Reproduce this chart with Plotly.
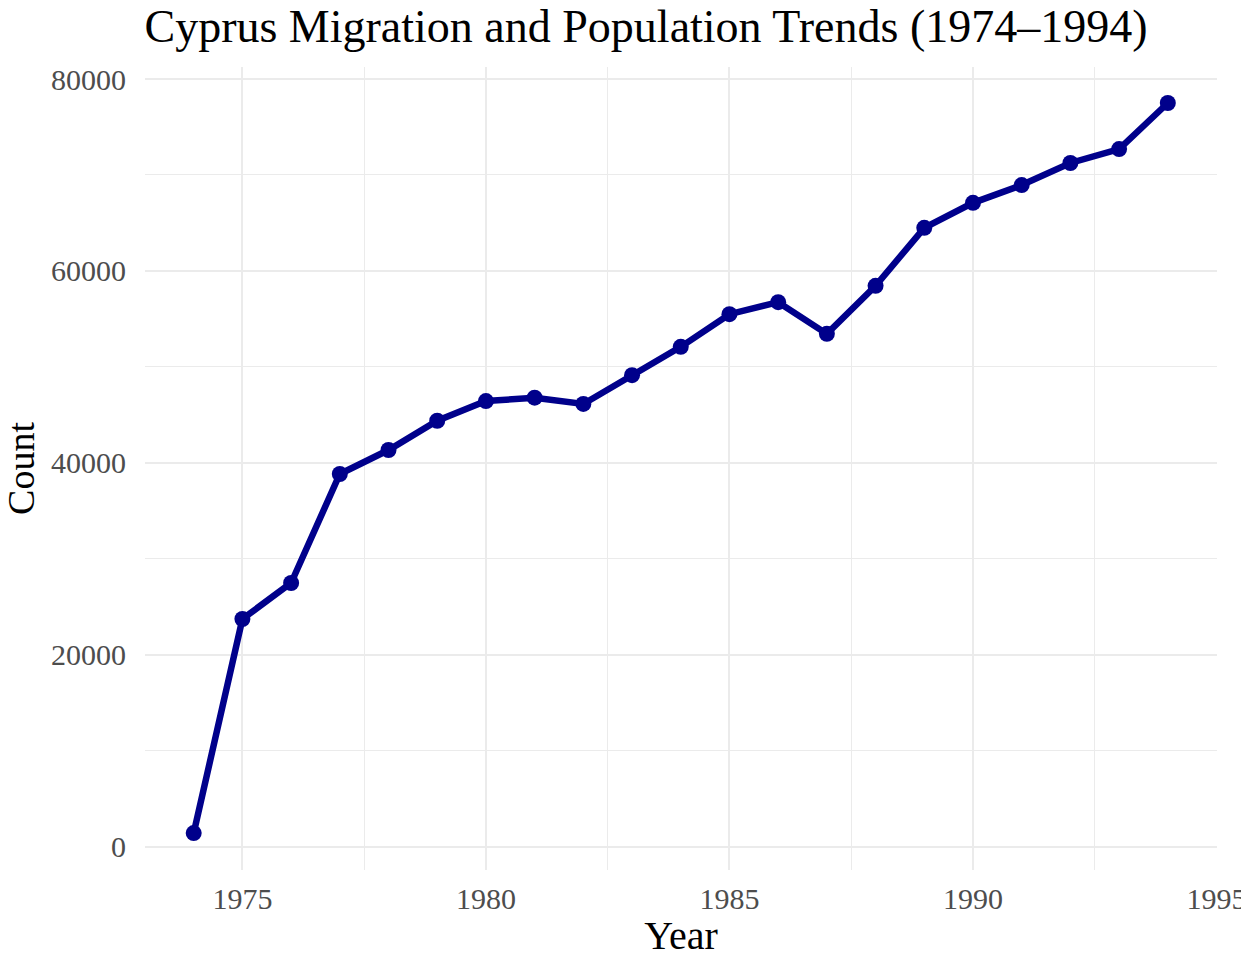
import plotly.graph_objects as go

years = list(range(1974, 1995))
counts = [1450, 23750, 27500, 38850, 41350, 44400, 46450, 46800, 46150, 49150,
          52100, 55500, 56750, 53450, 58450, 64500, 67100, 68950, 71250, 72700, 77500]

title_text = "Cyprus Migration and Population Trends (1974\u20131994)"
x_title = "Year"
y_title = "Count"

fig = go.Figure()
fig.add_trace(go.Scatter(
    x=years, y=counts, mode="lines+markers",
    line=dict(color="#00008B", width=6.5),
    marker=dict(color="#00008B", size=16),
    showlegend=False,
))

font_family = "Liberation Serif, Times New Roman, serif"

W, H = 1241, 958

fig.update_layout(
    width=W, height=H,
    paper_bgcolor="white", plot_bgcolor="white",
    margin=dict(l=145, r=24, t=67, b=88, autoexpand=False),
    title=dict(text=title_text, x=646 / W, xanchor="center", y=1 - 26 / H, yanchor="middle",
               font=dict(family=font_family, size=46, color="black")),
    font=dict(family=font_family),
)
fig.update_xaxes(
    range=[1973, 1995.01], dtick=5, tick0=1975,
    showgrid=True, gridcolor="#ebebeb", gridwidth=2.2,
    minor=dict(dtick=2.5, tick0=1972.5, showgrid=True, gridcolor="#ebebeb", gridwidth=1.1),
    zeroline=False, showline=False, ticks="", automargin=False,
    ticklabelstandoff=8, ticklabeloverflow="allow",
    tickfont=dict(family=font_family, size=30, color="#4d4d4d"),
    title=dict(text=x_title, font=dict(family=font_family, size=40, color="black"), standoff=13),
)
fig.update_yaxes(
    range=[-2400, 81250], dtick=20000, tick0=0, tickformat="d",
    showgrid=True, gridcolor="#ebebeb", gridwidth=2.2,
    minor=dict(dtick=10000, tick0=0, showgrid=True, gridcolor="#ebebeb", gridwidth=1.1),
    zeroline=False, showline=False, ticks="", automargin=False,
    ticklabelstandoff=18,
    tickfont=dict(family=font_family, size=30, color="#4d4d4d"),
    title=dict(text=y_title, font=dict(family=font_family, size=38, color="black"), standoff=26),
)

fig.write_html("out.html", config={"displayModeBar": False},
               post_script="document.body.style.margin='0px';")
